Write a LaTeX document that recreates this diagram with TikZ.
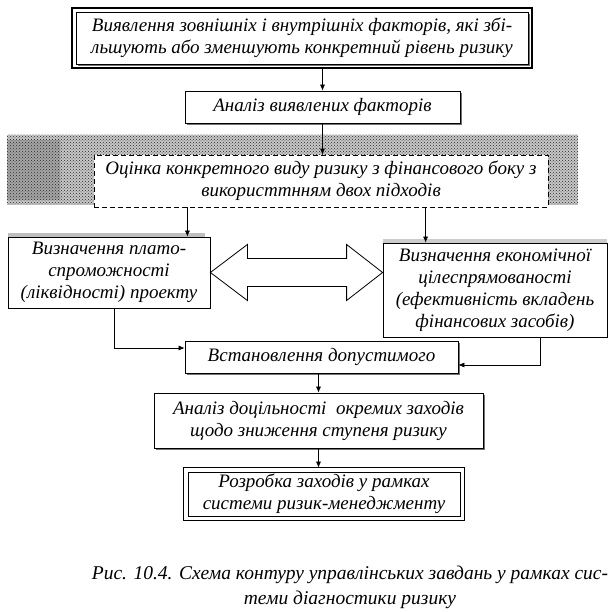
\documentclass[tikz,border=0pt]{standalone}
\usepackage{fontspec}
\setmainfont{Liberation Serif}[ItalicFont={Liberation Serif Italic}]
\usetikzlibrary{arrows.meta,shadows,patterns,calc}
\newcommand{\boxfont}{\rmfamily\itshape\fontsize{19}{22}\selectfont}
\newcommand{\capfont}{\rmfamily\itshape\fontsize{19.5}{25}\selectfont}

\begin{document}
\begin{tikzpicture}[x=1pt, y=1pt,
    box/.style={draw, line width=0.8pt, fill=white, align=center, inner sep=0pt, font=\boxfont},
    shd/.style={drop shadow={shadow xshift=1.5pt, shadow yshift=-2pt, fill=black!55, opacity=1}},
    arr/.style={-{Latex[length=6pt,width=5pt]}, line width=0.6pt},
    noise/.style={pattern=crosshatch dots, pattern color=black!85}]
    \useasboundingbox (0,0) rectangle (616,-612);

    % grey band behind the estimate box
    \fill[black!22] (7,-135) rectangle (578,-205);
    \fill[noise] (7,-135) rectangle (578,-205);
    \fill[black!35] (7,-140) rectangle (60,-200);
    \fill[noise] (7,-140) rectangle (60,-200);
    \fill[black!25] (8,-233) rectangle (205,-237);
    \fill[black!20] (383,-239) rectangle (607,-243);

    \node[box, shd, minimum width=452pt, minimum height=52pt] (vyyav) at (302,-38)
        {Виявлення зовнішніх і внутрішніх факторів, які збі-\\льшують або зменшують конкретний рівень ризику};
    \draw[line width=2pt] ($(vyyav.north west)+(-3.5,3.5)$) rectangle ($(vyyav.south east)+(3.5,-3.5)$);
    \node[box, shd, minimum width=275pt, minimum height=32pt] (anal) at (322.5,-107) {Аналіз виявлених факторів};
    \node[box, dash pattern=on 5pt off 3pt, minimum width=454pt, minimum height=52pt] (ocin) at (321,-181)
        {Оцінка конкретного виду ризику з фінансового боку з\\використтнням двох підходів};
    \node[box, minimum width=202pt, minimum height=71pt] (plat) at (109,-272.5)
        {Визначення плато-\\спроможності\\(ліквідності) проекту};
    \node[box, minimum width=224pt, minimum height=94pt] (ekon) at (495,-290)
        {Визначення економічної\\цілеспрямованості\\(ефективність вкладень\\фінансових засобів)};
    \node[box, shd, minimum width=273pt, minimum height=32pt] (vst) at (321.5,-357) {Встановлення допустимого};
    \node[box, shd, minimum width=329pt, minimum height=55pt] (dots) at (318.5,-420.5)
        {Аналіз доцільності~ окремих заходів\\щодо зниження ступеня ризику};
    \node[box, minimum width=272pt, minimum height=44pt] (rozr) at (324,-494)
        {Розробка заходів у рамках\\системи ризик-менеджменту};
    \draw[line width=1.4pt] ($(rozr.north west)+(-4,4)$) rectangle ($(rozr.south east)+(4,-4)$);

    \node[align=center, inner sep=0pt, font=\capfont] (cap) at (350,-587)
        {Рис. 10.4. Схема контуру управлінських завдань у рамках сис-\\теми діагностики ризику};

    % double arrow between the two estimates
    \draw[line width=0.8pt, fill=white] (plat.east) -- ++(37,28) -- ++(0,-14)
        -- ($(ekon.west |- plat.east)+(-36,14)$) -- ++(0,14) -- (ekon.west |- plat.east)
        -- ++(-36,-28) -- ++(0,14) -- ($(plat.east)+(37,-14)$) -- ++(0,-14) -- cycle;

    \coordinate (pin) at ([xshift=-23pt]plat.north east);
    \coordinate (ein) at ([xshift=43pt]ekon.north west);
    \draw[arr] ($(vyyav.south -| anal.north)+(0,-5)$) -- (anal.north);
    \draw[arr] (anal.south) -- (anal.south |- ocin.north);
    \draw[arr] (ocin.south -| pin) -- (pin);
    \draw[arr] (ocin.south -| ein) -- (ein);
    \draw[arr] ([xshift=5pt]plat.south) |- ([yshift=9pt]vst.west);
    \draw[arr] ([xshift=45pt]ekon.south) |- ([yshift=-8pt]vst.east);
    \draw[arr] (vst.south -| dots.north) -- (dots.north);
    \draw[arr] (dots.south) -- ($(rozr.north -| dots.south)+(0,4)$);
\end{tikzpicture}
\end{document}
